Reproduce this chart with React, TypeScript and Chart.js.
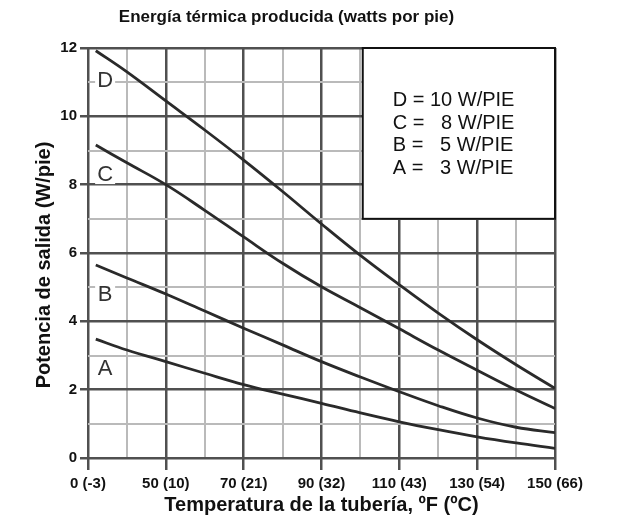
import React, { useEffect, useRef } from 'react';
import { Chart, registerables } from 'chart.js';

Chart.register(...registerables);

const chartTitle = 'Energía térmica producida (watts por pie)';
const xAxisTitle = 'Temperatura de la tubería, ºF (ºC)';
const yAxisTitle = 'Potencia de salida (W/pie)';

// x positions are the (evenly spaced) tick index of the temperature axis
const xTickLabels = ['0 (-3)', '50 (10)', '70 (21)', '90 (32)', '110 (43)', '130 (54)', '150 (66)'];
const xPositions = [0.1, 0.5, 1, 1.5, 2, 2.5, 3, 3.5, 4, 4.5, 5, 5.5, 6];

const seriesNames = ['D', 'C', 'B', 'A'];
const seriesD = [11.92, 11.3, 10.45, 9.6, 8.72, 7.8, 6.85, 5.93, 5.07, 4.24, 3.46, 2.73, 2.04];
const seriesC = [9.16, 8.64, 8.0, 7.25, 6.47, 5.7, 5.01, 4.4, 3.78, 3.16, 2.57, 1.99, 1.45];
const seriesB = [5.65, 5.27, 4.8, 4.3, 3.8, 3.31, 2.82, 2.37, 1.94, 1.53, 1.17, 0.9, 0.74];
const seriesA = [3.48, 3.16, 2.82, 2.48, 2.15, 1.87, 1.6, 1.32, 1.06, 0.83, 0.62, 0.44, 0.28];

const legendLines = ['D = 10 W/PIE', 'C =   8 W/PIE', 'B =   5 W/PIE', 'A =   3 W/PIE'];

const FONT = '"Liberation Sans", Arial, Helvetica, sans-serif';
const MAJOR = '#505050';
const MINOR = '#bababa';
const CURVE = '#2a2a2a';

const allSeries = [seriesD, seriesC, seriesB, seriesA];

const overlayPlugin = {
  id: 'overlay',
  afterDatasetsDraw(chart: any) {
    const { ctx, chartArea, scales } = chart;
    const x = scales.x;
    const y = scales.y;
    ctx.save();

    // curve letters
    ctx.font = `22px ${FONT}`;
    ctx.textAlign = 'center';
    ctx.textBaseline = 'middle';
    seriesNames.forEach((name, i) => {
      const px = x.getPixelForValue(0.22);
      const py = y.getPixelForValue(allSeries[i][0] - 0.85);
      ctx.fillStyle = '#ffffff';
      ctx.fillRect(px - 10, py - 10, 20, 20);
      ctx.fillStyle = '#333333';
      ctx.fillText(name, px, py + 1);
    });

    // legend box
    const left = x.getPixelForValue(3.53);
    const right = x.getPixelForValue(6);
    const top = y.getPixelForValue(12);
    const bottom = y.getPixelForValue(7);
    ctx.fillStyle = '#ffffff';
    ctx.fillRect(left, top, right - left, bottom - top);
    ctx.strokeStyle = '#111111';
    ctx.lineWidth = 2;
    ctx.strokeRect(left, top, right - left, bottom - top);
    ctx.font = `20px ${FONT}`;
    ctx.fillStyle = '#111111';
    ctx.textAlign = 'left';
    const cy = (top + bottom) / 2;
    legendLines.forEach((t, i) => {
      ctx.fillText(t, left + 30, cy + (i - 1.5) * 22.7 + 1);
    });

    // chart title
    ctx.font = `bold 17px ${FONT}`;
    ctx.textAlign = 'center';
    ctx.fillStyle = '#111111';
    ctx.fillText(chartTitle, (chartArea.left + chartArea.right) / 2 - 35, 9);

    // y axis title
    ctx.font = `bold 20px ${FONT}`;
    ctx.translate(36, (chartArea.top + chartArea.bottom) / 2 + 12);
    ctx.rotate(-Math.PI / 2);
    ctx.fillText(yAxisTitle, 0, 0);

    ctx.restore();
  },
};

export default function App() {
  const ref = useRef<HTMLCanvasElement>(null);

  useEffect(() => {
    if (!ref.current) return;
    Chart.defaults.font.family = FONT;
    const mk = (vals: number[], name: string) => ({
      label: name,
      data: vals.map((v, i) => ({ x: xPositions[i], y: v })),
      borderColor: CURVE,
      borderWidth: 2.8,
      pointRadius: 0,
      fill: false,
      tension: 0.4,
    });
    const chart = new Chart(ref.current, {
      type: 'line',
      data: {
        datasets: allSeries.map((s, i) => mk(s, seriesNames[i])),
      },
      options: {
        responsive: false,
        animation: false,
        layout: { padding: { top: 40, right: 65, bottom: 0, left: 0 } },
        plugins: {
          legend: { display: false },
          title: { display: false },
          tooltip: { enabled: false },
        },
        scales: {
          x: {
            type: 'linear',
            min: 0,
            max: 6,
            afterFit: (s: any) => {
              s.height = 57;
            },
            border: { display: false },
            grid: {
              color: (c: any) => (Number.isInteger(c.tick.value) ? MAJOR : MINOR),
              lineWidth: (c: any) => (Number.isInteger(c.tick.value) ? 2.5 : 2),
              tickColor: (c: any) => (Number.isInteger(c.tick.value) ? MAJOR : 'rgba(0,0,0,0)'),
              tickLength: 12,
            },
            ticks: {
              stepSize: 0.5,
              autoSkip: false,
              maxRotation: 0,
              padding: 5,
              color: '#111111',
              font: { size: 15, weight: 'bold' },
              callback: (v: any) => (Number.isInteger(v) ? xTickLabels[v] : ''),
            },
            title: {
              display: true,
              text: xAxisTitle,
              color: '#111111',
              font: { size: 20, weight: 'bold', lineHeight: 1 },
              padding: 0,
            },
          },
          y: {
            min: 0,
            max: 12,
            afterFit: (s: any) => {
              s.width = 80;
            },
            border: { display: false },
            grid: {
              color: (c: any) => (c.tick.value % 2 === 0 ? MAJOR : MINOR),
              lineWidth: (c: any) => (c.tick.value % 2 === 0 ? 2.5 : 2),
              tickColor: (c: any) => (c.tick.value % 2 === 0 ? MAJOR : 'rgba(0,0,0,0)'),
              tickLength: 8,
            },
            ticks: {
              stepSize: 1,
              autoSkip: false,
              padding: 3,
              color: '#111111',
              font: { size: 15, weight: 'bold' },
              callback: (v: any) => (v % 2 === 0 ? String(v) : ''),
            },
            title: { display: false, text: yAxisTitle },
          },
        },
      },
      plugins: [overlayPlugin],
    });
    return () => chart.destroy();
  }, []);

  return (
    <div style={{ width: 612, height: 507 }}>
      <canvas ref={ref} width={612} height={507} style={{ display: 'block' }} />
    </div>
  );
}
